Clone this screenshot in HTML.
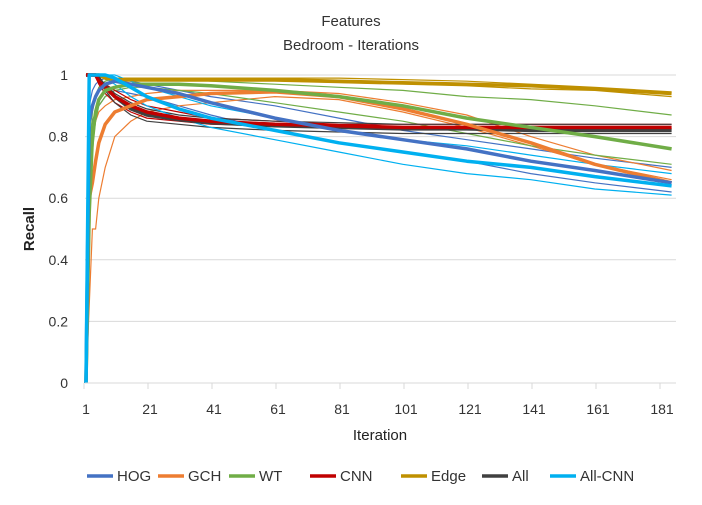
<!DOCTYPE html>
<html><head><meta charset="utf-8"><style>
body{margin:0;background:#fff}
svg{font-family:"Liberation Sans",sans-serif}
</style></head><body>
<svg id="c" width="702" height="500" viewBox="0 0 702 500">
<text x="351" y="26" text-anchor="middle" font-size="15" fill="#333">Features</text>
<text x="351" y="50" text-anchor="middle" font-size="15" fill="#333">Bedroom - Iterations</text>
<text x="34" y="229" text-anchor="middle" font-size="15" font-weight="bold" fill="#222" transform="rotate(-90 34 229)">Recall</text>
<text x="380" y="440" text-anchor="middle" font-size="15" fill="#222">Iteration</text>
<g id="grid"></g><g id="thin"></g><g id="thick"></g><g id="axes"></g><g id="legend"></g>
</svg>
<script>
const iters=[1,2,3,4,5,7,10,15,20,30,40,60,80,100,120,140,160,184];
const names=["HOG","GCH","WT","CNN","Edge","All","All-CNN"];
const colors=["#4472C4","#ED7D31","#70AD47","#C00000","#BF9000","#404040","#00B0F0"];
const hog=[0,0.85,0.9,0.93,0.95,0.97,0.98,0.97,0.96,0.94,0.91,0.86,0.82,0.79,0.76,0.72,0.69,0.65];
const gch=[0,0.6,0.65,0.72,0.78,0.84,0.88,0.9,0.92,0.93,0.94,0.945,0.93,0.89,0.84,0.78,0.71,0.65];
const wt=[0,0.55,0.8,0.88,0.92,0.95,0.96,0.97,0.97,0.97,0.965,0.95,0.93,0.9,0.86,0.83,0.8,0.76];
const cnn=[1,1,1,1,0.98,0.96,0.93,0.9,0.88,0.86,0.85,0.84,0.835,0.83,0.83,0.83,0.83,0.83];
const edge=[1,1,1,1,1,0.99,0.985,0.985,0.985,0.985,0.985,0.985,0.98,0.975,0.97,0.965,0.955,0.94];
const all=[1,1,1,1,0.99,0.96,0.93,0.89,0.87,0.855,0.845,0.835,0.83,0.825,0.825,0.82,0.82,0.82];
const allcnn=[0,1,1,1,1,1,0.99,0.96,0.93,0.89,0.86,0.82,0.78,0.75,0.72,0.7,0.67,0.64];
const thinHog=[[0,0.9,0.95,0.97,0.98,0.99,0.99,0.98,0.97,0.95,0.93,0.9,0.86,0.82,0.79,0.76,0.73,0.7],[0,0.8,0.85,0.88,0.9,0.93,0.95,0.94,0.93,0.9,0.87,0.82,0.78,0.75,0.72,0.68,0.65,0.62]];
const thinGch=[[0,0.25,0.5,0.5,0.6,0.7,0.8,0.85,0.88,0.9,0.91,0.93,0.92,0.88,0.83,0.77,0.71,0.66],[0,0.7,0.8,0.85,0.88,0.9,0.92,0.93,0.94,0.95,0.95,0.95,0.94,0.91,0.87,0.8,0.74,0.69]];
const thinWt=[[0,0.7,0.88,0.93,0.96,0.98,0.99,0.99,0.99,0.99,0.98,0.97,0.96,0.95,0.93,0.92,0.9,0.87],[0,0.5,0.75,0.85,0.9,0.93,0.95,0.96,0.96,0.95,0.94,0.91,0.88,0.85,0.81,0.77,0.74,0.71]];
const thinCnn=[[1,1,1,1,0.97,0.94,0.91,0.88,0.86,0.85,0.84,0.835,0.83,0.825,0.825,0.825,0.825,0.825],[1,1,1,1,0.98,0.97,0.95,0.92,0.9,0.88,0.86,0.85,0.84,0.84,0.84,0.84,0.84,0.84]];
const thinEdge=[[1,1,1,1,1,1,0.99,0.99,0.99,0.99,0.99,0.99,0.99,0.985,0.98,0.97,0.96,0.945],[1,1,1,1,1,0.99,0.98,0.98,0.98,0.98,0.98,0.98,0.975,0.97,0.965,0.955,0.95,0.93]];
const thinAll=[[1,1,1,1,0.98,0.95,0.91,0.87,0.85,0.84,0.83,0.82,0.815,0.81,0.81,0.81,0.81,0.81],[1,1,1,1,0.99,0.97,0.94,0.91,0.89,0.87,0.86,0.85,0.845,0.84,0.84,0.84,0.84,0.84]];
const thinAllcnn=[[0,1,1,1,1,0.99,0.97,0.93,0.9,0.86,0.83,0.79,0.75,0.71,0.68,0.66,0.63,0.61],[0,1,1,1,1,1,1,0.98,0.96,0.93,0.9,0.86,0.82,0.79,0.77,0.74,0.71,0.68]];
const yTicks=["0","0.2","0.4","0.6","0.8","1"];
const xTicks=[1,21,41,61,81,101,121,141,161,181];
const NS="http://www.w3.org/2000/svg";
const X=i=>86+(i-1)*3.2, Y=v=>383-v*308;
function mk(tag,attrs,parent){const e=document.createElementNS(NS,tag);for(const k in attrs)e.setAttribute(k,attrs[k]);parent.appendChild(e);return e;}
const grid=document.getElementById('grid'),axes=document.getElementById('axes');
yTicks.forEach((t,k)=>{const v=parseFloat(t);
 if(v>0){const l=mk('line',{x1:85,x2:676,y1:Y(v),y2:Y(v),stroke:'#d9d9d9','stroke-width':1},grid);
 
 }
 const tx=mk('text',{x:68,y:Y(v)+5,'text-anchor':'end','font-size':14,fill:'#333'},axes);tx.textContent=t;
 
 
});
const ax=mk('line',{x1:85,x2:676,y1:383,y2:383,stroke:'#d9d9d9','stroke-width':1},axes);


xTicks.forEach(t=>{const tk=mk('line',{x1:X(t)-2,x2:X(t)-2,y1:383,y2:389,stroke:'#d9d9d9'},axes);
 
 
 const tx=mk('text',{x:X(t),y:414,'text-anchor':'middle','font-size':14,fill:'#333'},axes);tx.textContent=t;
 
 
});
function path(vals){return vals.map((v,k)=>(k?'L':'M')+X(iters[k]).toFixed(1)+','+Y(v).toFixed(1)).join(' ');}
const thinSets=[thinHog,thinGch,thinWt,thinCnn,thinEdge,thinAll,thinAllcnn];
const thickSets=[hog,gch,wt,cnn,edge,all,allcnn];
const thinG=document.getElementById('thin'),thickG=document.getElementById('thick');
thinSets.forEach((set,s)=>set.forEach(vals=>{const p=mk('path',{d:path(vals),fill:'none',stroke:colors[s],'stroke-width':1.2},thinG);
 
 
}));
[4,5,3,1,2,0,6].forEach(s=>{const p=mk('path',{d:path(thickSets[s]),fill:'none',stroke:colors[s],'stroke-width':3.5,'stroke-linejoin':'round'},thickG);
 
 
});
const leg=document.getElementById('legend');
const lx=[87,158,229,310,401,482,550];
names.forEach((n,s)=>{const l=mk('line',{x1:lx[s],x2:lx[s]+26,y1:476,y2:476,stroke:colors[s],'stroke-width':3.5},leg);
 
 
 const t=mk('text',{x:lx[s]+30,y:481,'font-size':15,fill:'#333'},leg);t.textContent=n;
 
 
});
</script>
</body></html>
